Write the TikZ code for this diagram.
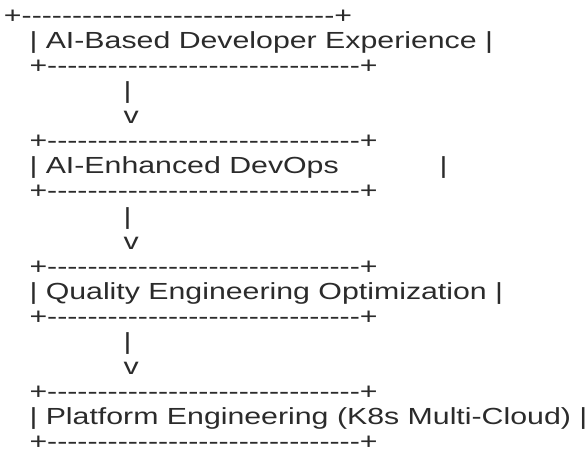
\documentclass[tikz,border=0pt]{standalone}
\usepackage{fontspec}
\newfontfamily\asciifont[FakeStretch=1.3]{Liberation Sans}
\definecolor{ink}{HTML}{2B2B2B}
\tikzset{
  row/.style={anchor=base west,inner sep=0pt,outer sep=0pt,text=ink,
    font=\asciifont\fontsize{23.3}{25}\selectfont},
}
\newcommand{\hrow}{+-------------------------------+}
\begin{document}
\begin{tikzpicture}[x=1pt,y=-1pt]
\useasboundingbox (0,0) rectangle (587,448);

%box 1
\node[row] (boxatop) at (4,23.2) {\hrow};
\node[row] (boxatxt) at (29.5,48.3) {| AI-Based Developer Experience |};
\node[row] (boxabot) at (29.5,73.4) {\hrow};
%link 1
\node[row] (linkabar) at (123.5,98.5) {|};
\node[row] (linkatip) at (123.5,123.6) {v};

%box 2
\node[row] (boxbtop) at (29.5,148.7) {\hrow};
\node[row] (boxbtxt) at (29.5,173.8) {| AI-Enhanced DevOps~~~~~~~~~~~~|};
\node[row] (boxbbot) at (29.5,198.9) {\hrow};
%link 2
\node[row] (linkbbar) at (123.5,224.0) {|};
\node[row] (linkbtip) at (123.5,249.1) {v};

%box 3
\node[row] (boxctop) at (29.5,274.2) {\hrow};
\node[row] (boxctxt) at (29.5,299.3) {| Quality Engineering Optimization |};
\node[row] (boxcbot) at (29.5,324.4) {\hrow};
%link 3
\node[row] (linkcbar) at (123.5,349.5) {|};
\node[row] (linkctip) at (123.5,374.6) {v};

%box 4
\node[row] (boxdtop) at (29.5,399.7) {\hrow};
\node[row] (boxdtxt) at (29.5,424.8) {| Platform Engineering (K8s Multi-Cloud) |};
\node[row] (boxdbot) at (29.5,449.9) {\hrow};

\end{tikzpicture}
\end{document}
